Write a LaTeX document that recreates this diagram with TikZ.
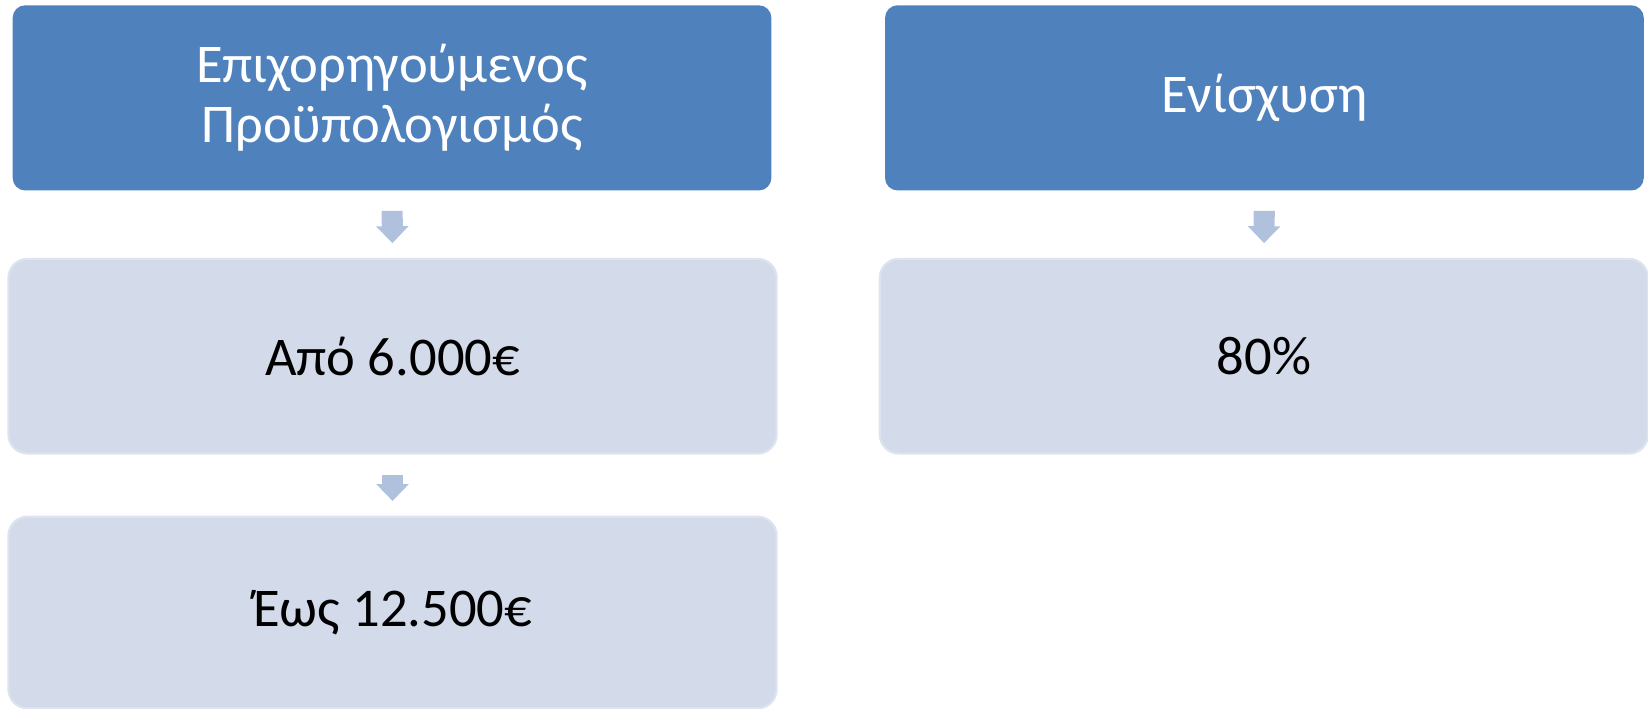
\documentclass[tikz,border=0pt]{standalone}
\usepackage{fontspec}
\setmainfont{Carlito}
\usetikzlibrary{arrows.meta}
\definecolor{headblue}{HTML}{4F81BD}
\definecolor{itemfill}{HTML}{D3DBEA}
\definecolor{itemline}{HTML}{DDE3EF}
\definecolor{flowblue}{HTML}{B0C1DD}

\begin{document}
\begin{tikzpicture}
        [head/.style={fill=headblue, text=white, rounded corners=0.24cm,
                      minimum width=14.42cm, minimum height=3.52cm,
                      align=center, font=\fontsize{29.5}{32.5}\selectfont},
         item/.style={fill=itemfill, draw=itemline, line width=0.04cm,
                      rounded corners=0.36cm,
                      minimum width=14.6cm, minimum height=3.7cm,
                      align=center, font=\fontsize{29.5}{32.5}\selectfont},
         flow/.style={draw=flowblue, line width=0.4cm,
                      -{Triangle[width=0.6cm,length=0.32cm]},
                      shorten <=0.38cm, shorten >=0.28cm}]
        \useasboundingbox (0,0) rectangle (31.32,-13.46);
        %\draw[help lines] (0,0) grid (31,-13);
        \node[head] (budget) at (7.45,-1.86) {Επιχορηγούμενος\\Προϋπολογισμός};
        \node[item] (from) at (7.46,-6.77) {Από 6.000€};
        \node[item, minimum height=3.64cm] (upto) at (7.46,-11.64) {Έως 12.500€};
        \node[head] (aid) at (24.03,-1.86) {Ενίσχυση};
        \node[item] (rate) at (24.02,-6.77) {80\%};
        \draw[flow] (budget.south) -- (from.north);
        \draw[flow] (from.south) -- (upto.north);
        \draw[flow] (aid.south) -- (rate.north);
\end{tikzpicture}
\end{document}
